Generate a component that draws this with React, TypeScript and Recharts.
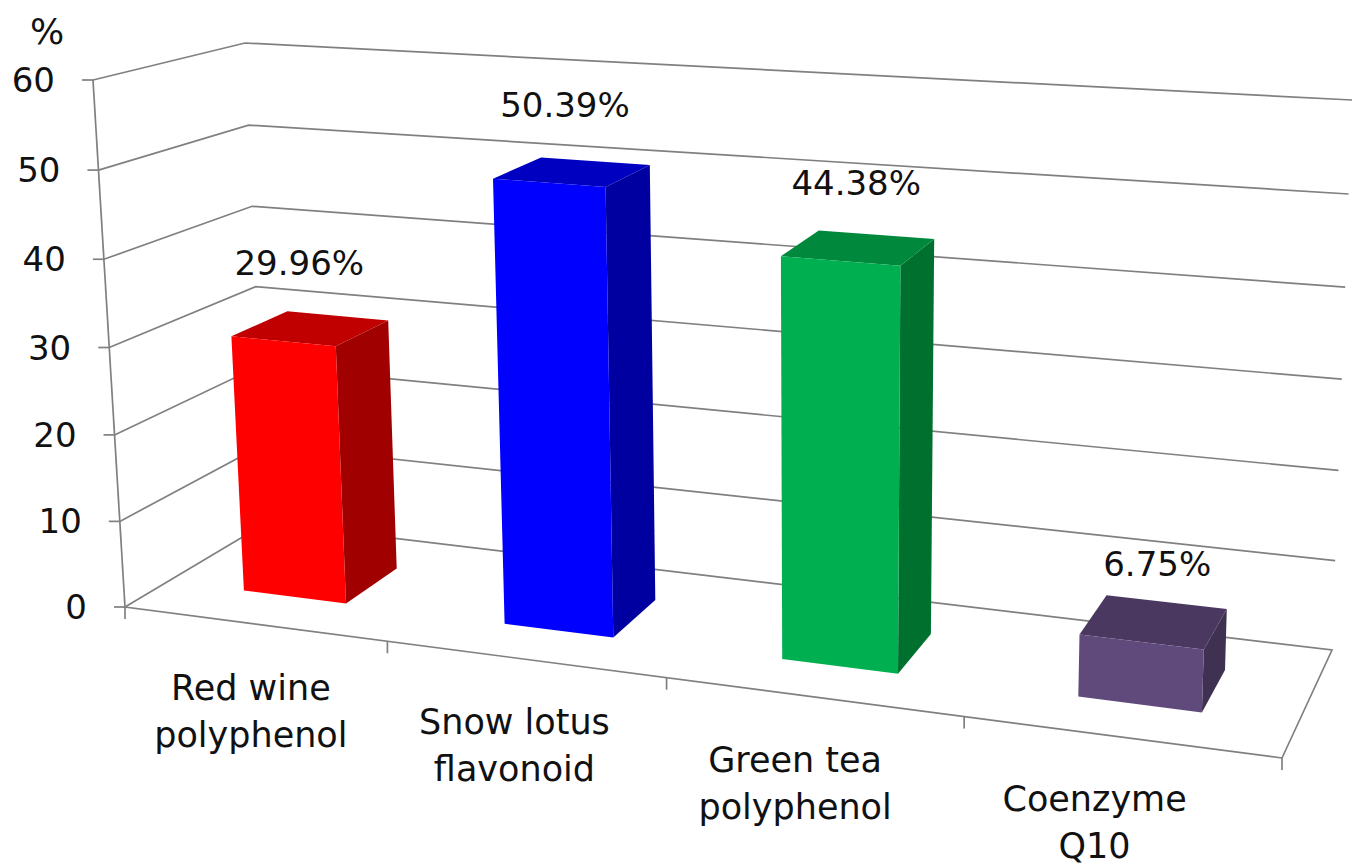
import { BarChart, Bar, XAxis, YAxis, CartesianGrid, LabelList } from "recharts";

const categories = [
  "Red wine polyphenol",
  "Snow lotus flavonoid",
  "Green tea polyphenol",
  "Coenzyme Q10",
];
const values = [29.96, 50.39, 44.38, 6.75];
const yTicks = [0, 10, 20, 30, 40, 50, 60];

const frontColors = ["#ff0000", "#0000ff", "#00b050", "#604a7b"];
const sideColors = ["#a00000", "#0000a0", "#00702f", "#3f3151"];
const topColors = ["#c00000", "#0000c0", "#00893d", "#4a3860"];

const data = categories.map((name, i) => ({ name, value: values[i] }));

// chart box / plot area
const W = 1353;
const H = 867;
const MARGIN = { top: 100, right: 100, left: 0, bottom: 0 };
const AXIS_W = 100;
const AXIS_H = 100;
const X0 = MARGIN.left + AXIS_W;
const Y0 = MARGIN.top;
const PW = W - X0 - MARGIN.right;
const PH = H - Y0 - MARGIN.bottom - AXIS_H;
const VMAX = 60;

// bar depth (0 = front edge of floor, 1 = back wall)
const WF = 0.31;
const WB = 0.71;

const FONT = "'DejaVu Sans', sans-serif";
const GRID = "#808080";

// corners of the 3d box on screen: b = bottom, t = top, [u][w]
const C = {
  b00: [125, 607],
  b10: [1282, 758],
  b01: [266, 523],
  b11: [1332, 650],
  t00: [93, 80],
  t10: [1303, 165],
  t01: [245, 43],
  t11: [1352, 100],
};

type Pt = number[];
const lerp = (a: Pt, b: Pt, t: number): Pt => [a[0] + (b[0] - a[0]) * t, a[1] + (b[1] - a[1]) * t];

function proj(u: number, v: number, w: number): Pt {
  const us = (0.88 * u) / (1 - 0.12 * u);
  const vn = v / VMAX;
  const vs = (0.97 * vn) / (1 - 0.03 * vn);
  const bot = lerp(lerp(C.b00, C.b10, us), lerp(C.b01, C.b11, us), w);
  const top = lerp(lerp(C.t00, C.t10, us), lerp(C.t01, C.t11, us), w);
  return lerp(bot, top, vs);
}

const uOf = (x: number) => (x - X0) / PW;
const vOf = (y: number) => ((Y0 + PH - y) / PH) * VMAX;
const poly = (pts: Pt[]) => pts.map((p) => `${p[0].toFixed(1)},${p[1].toFixed(1)}`).join(" ");

const gridLine = (p: any) => {
  const v = Math.round(vOf(p.y1));
  const a = proj(0, v, 0);
  const b = proj(0, v, 1);
  const c = proj(1, v, 1);
  let pts = [a, b, c];
  if (v === 0) pts = [proj(1, 0, 0), a, b, c, proj(1, 0, 0)];
  return (
    <polyline
      key={`grid-${p.index}`}
      points={poly(pts)}
      fill="none"
      stroke={GRID}
      strokeWidth={1.7}
    />
  );
};

const YTick = (p: any) => {
  const v = p.payload.value;
  const [x, y] = proj(0, v, 0);
  const below = v > 0 ? proj(0, v - 10, 0) : null;
  return (
    <g>
      <line x1={x - 11} y1={y} x2={x} y2={y} stroke={GRID} strokeWidth={1.7} />
      {below && <line x1={x} y1={y} x2={below[0]} y2={below[1]} stroke={GRID} strokeWidth={1.7} />}
      <text x={x - 38} y={y} textAnchor="end" dominantBaseline="central" fontSize={34} fontFamily={FONT} fill="#111">
        {v}
      </text>
      {v === VMAX && (
        <text x={x - 46} y={y - 49} textAnchor="middle" dominantBaseline="central" fontSize={36} fontFamily={FONT} fill="#111">
          %
        </text>
      )}
    </g>
  );
};

const XTick = (p: any) => {
  const uc = uOf(p.x);
  const band = 1 / categories.length;
  const name: string = p.payload.value;
  const cut = name.lastIndexOf(" ");
  const lines = [name.slice(0, cut), name.slice(cut + 1)];
  const ticks = [uc + band / 2];
  if (p.index === 0) ticks.push(uc - band / 2);
  const [fx, fy] = proj(uc, 0, 0);
  const us = (0.88 * uc) / (1 - 0.12 * uc);
  const lx = fx - 30 * us;
  const ly = fy + 64 - 2 * us;
  return (
    <g>
      {ticks.map((u, i) => {
        const [tx, ty] = proj(u, 0, 0);
        return <line key={i} x1={tx} y1={ty} x2={tx} y2={ty + 12} stroke={GRID} strokeWidth={1.7} />;
      })}
      {lines.map((t, i) => (
        <text key={t} x={lx} y={ly + i * 47} textAnchor="middle" dominantBaseline="central" fontSize={35} fontFamily={FONT} fill="#111">
          {t}
        </text>
      ))}
    </g>
  );
};

const Box3D = (p: any) => {
  const { x, y, width, index } = p;
  const u1 = uOf(x);
  const u2 = uOf(x + width);
  const v = vOf(y);
  const front = [proj(u1, 0, WF), proj(u2, 0, WF), proj(u2, v, WF), proj(u1, v, WF)];
  const side = [proj(u2, 0, WF), proj(u2, 0, WB), proj(u2, v, WB), proj(u2, v, WF)];
  const top = [proj(u1, v, WF), proj(u2, v, WF), proj(u2, v, WB), proj(u1, v, WB)];
  return (
    <g>
      <polygon points={poly(side)} fill={sideColors[index]} />
      <polygon points={poly(top)} fill={topColors[index]} />
      <polygon points={poly(front)} fill={frontColors[index]} />
    </g>
  );
};

const ValueLabel = (p: any) => {
  const uc = uOf(p.x + p.width / 2);
  const v = vOf(p.y);
  const [px, py] = proj(uc, v, WF);
  return (
    <text x={px + 16} y={py - 78} textAnchor="middle" dominantBaseline="central" fontSize={34} fontFamily={FONT} fill="#111">
      {`${Number(p.value).toFixed(2)}%`}
    </text>
  );
};

export default function App() {
  return (
    <div style={{ position: "absolute", left: 0, top: 0, width: W, height: H, background: "#fff" }}>
      <BarChart width={W} height={H} data={data} margin={MARGIN} barCategoryGap="30%">
        <CartesianGrid horizontal={gridLine} vertical={false} />
        <XAxis dataKey="name" height={AXIS_H} axisLine={false} tickLine={false} tick={XTick} interval={0} />
        <YAxis
          type="number"
          domain={[0, VMAX]}
          ticks={yTicks}
          width={AXIS_W}
          axisLine={false}
          tickLine={false}
          tick={YTick}
          interval={0}
        />
        <Bar dataKey="value" shape={Box3D} isAnimationActive={false}>
          <LabelList dataKey="value" content={ValueLabel} />
        </Bar>
      </BarChart>
    </div>
  );
}
